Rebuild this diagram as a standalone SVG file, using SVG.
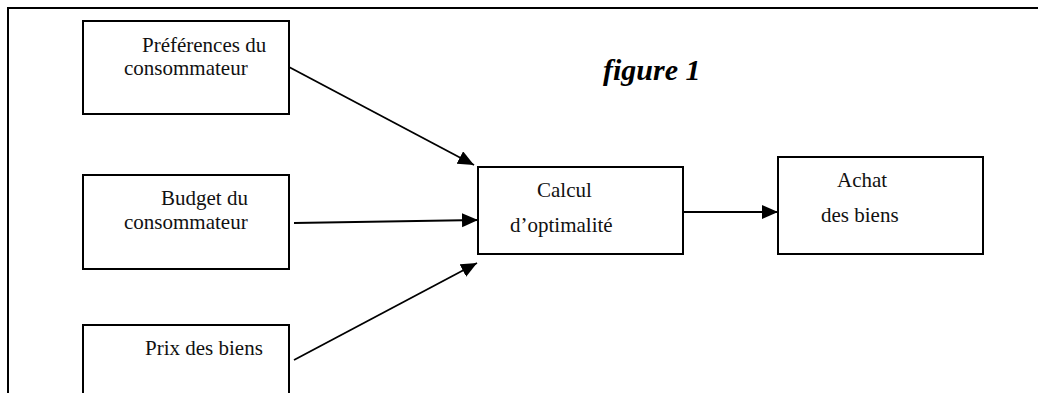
<svg xmlns="http://www.w3.org/2000/svg" width="1038" height="393" viewBox="0 0 1038 393">
<defs>
<marker id="arr" markerUnits="userSpaceOnUse" markerWidth="18" markerHeight="16" refX="16" refY="7" orient="auto">
<path d="M0,0 L16,7 L0,14 Z" fill="#000"/>
</marker>
<style>
.box{fill:#fff;stroke:#000;stroke-width:2}
.lbl{font-family:'Liberation Serif','DejaVu Serif',serif;font-size:21px;fill:#111}
.ttl{font-family:'Liberation Serif','DejaVu Serif',serif;font-size:30px;font-weight:bold;font-style:italic;fill:#000}
.con{stroke:#000;stroke-width:1.8;fill:none;marker-end:url(#arr)}
.frame{stroke:#000;stroke-width:2;fill:none}
</style>
</defs>
<rect width="1038" height="393" fill="#fff"/>
<path class="frame" d="M8,393 L8,8 L1038,8"/>
<text class="ttl" x="603" y="80">figure 1</text>
<g id="n-preferences">
<rect class="box" x="83" y="21" width="206" height="93"/>
<text class="lbl" x="142" y="52">Préférences du</text>
<text class="lbl" x="124" y="75">consommateur</text>
</g>
<g id="n-budget">
<rect class="box" x="83" y="175" width="206" height="94"/>
<text class="lbl" x="161" y="205">Budget du</text>
<text class="lbl" x="124" y="229">consommateur</text>
</g>
<g id="n-prix">
<rect class="box" x="83" y="325" width="206" height="80"/>
<text class="lbl" x="145" y="355">Prix des biens</text>
</g>
<g id="n-calcul">
<rect class="box" x="478" y="167" width="205" height="87"/>
<text class="lbl" x="537" y="197">Calcul</text>
<text class="lbl" x="510" y="232">d’optimalité</text>
</g>
<g id="n-achat">
<rect class="box" x="778" y="157" width="205" height="97"/>
<text class="lbl" x="837" y="187">Achat</text>
<text class="lbl" x="821" y="222">des biens</text>
</g>
<g id="connectors">
<line class="con" x1="289" y1="67" x2="474" y2="165"/>
<line class="con" x1="294" y1="223" x2="478" y2="220"/>
<line class="con" x1="294" y1="360" x2="477" y2="263"/>
<line class="con" x1="683" y1="212" x2="778" y2="212"/>
</g>
</svg>
